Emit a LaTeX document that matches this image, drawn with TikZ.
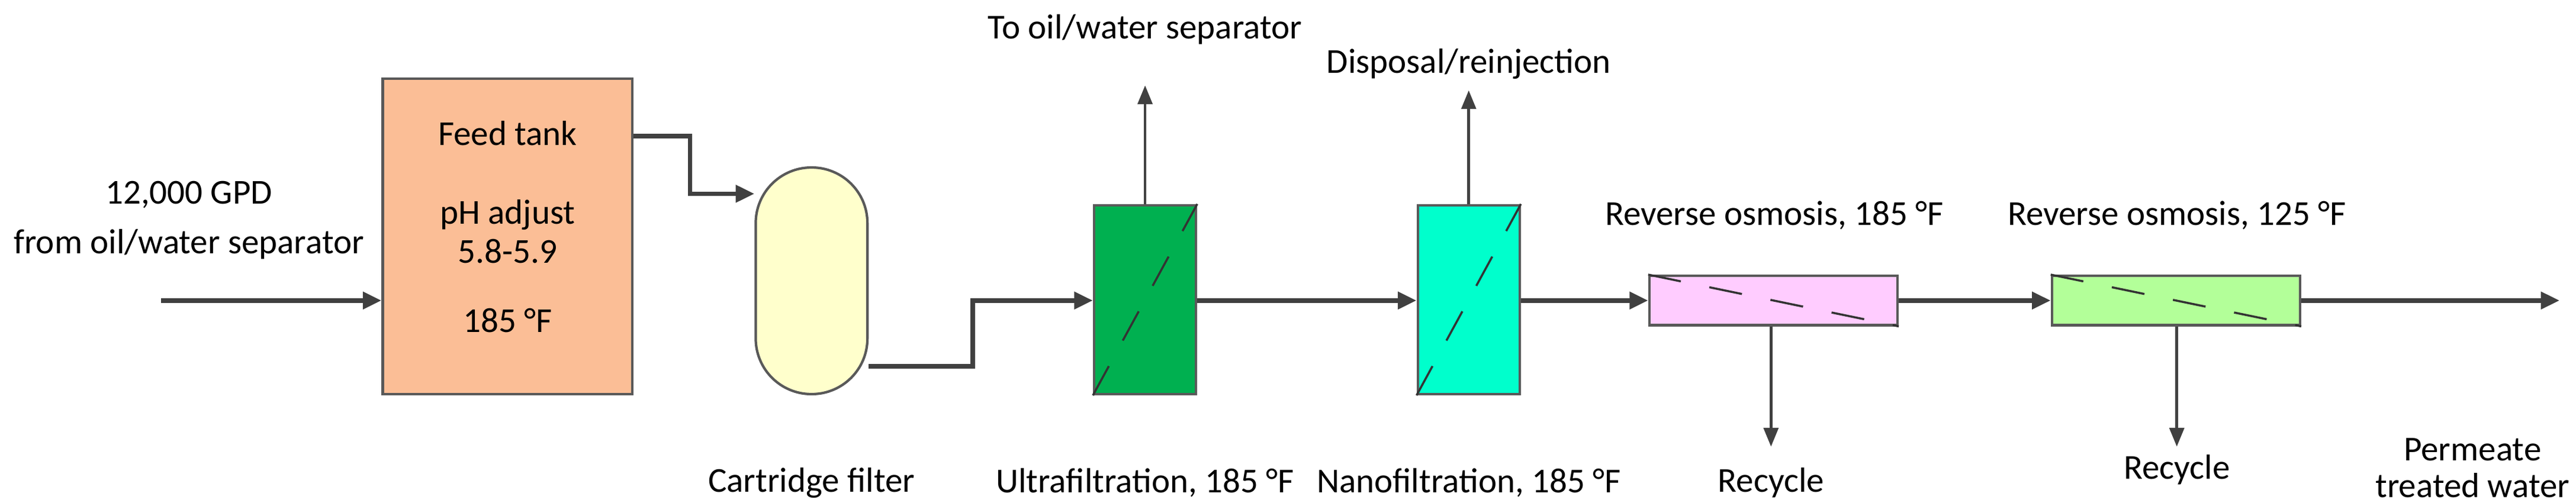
\documentclass[tikz,border=0pt]{standalone}
\usepackage{fontspec}
\setmainfont{Carlito}
\usetikzlibrary{arrows.meta}
\begin{document}
\begin{tikzpicture}[x=0.02775cm,y=-0.02775cm,
  flow/.style={draw=black!75,line width=2.2pt,-{Triangle[length=9pt,width=8pt]}},
  side/.style={draw=black!75,line width=1.3pt,-{Triangle[length=9pt,width=7pt]}},
  unit/.style={draw=black!65,line width=1.2pt,inner sep=0pt},
  lbl/.style={font=\fontsize{16.8}{19}\selectfont,align=center,inner sep=0pt},
  memb/.style={draw=black!80,line width=1pt,dash pattern=on 16pt off 14pt}]
\useasboundingbox (0,0) rectangle (1568,306);
\def\u{0.02775cm}
% units
\node[unit,fill={rgb,255:red,251;green,190;blue,150},minimum width=152*\u,minimum height=192*\u] (tank) at (309,144) {};
\node[lbl] (t1) at (309,81) {Feed tank};
\node[lbl] (t2) at (309,141) {pH adjust\\5.8-5.9};
\node[lbl] (t3) at (309,195) {185 °F};
\node[unit,fill={rgb,255:red,255;green,255;blue,204},rounded corners=0.94cm,minimum width=68*\u,minimum height=138*\u] (cf) at (494,171) {};
\node[unit,fill={rgb,255:red,0;green,176;blue,80},minimum width=62*\u,minimum height=115*\u] (uf) at (697,182.5) {};
\node[unit,fill={rgb,255:red,0;green,255;blue,204},minimum width=62*\u,minimum height=115*\u] (nf) at (894,182.5) {};
\node[unit,fill={rgb,255:red,255;green,204;blue,255},minimum width=151*\u,minimum height=30*\u] (ro1) at (1079.5,183) {};
\node[unit,fill={rgb,255:red,179;green,255;blue,153},minimum width=151*\u,minimum height=30*\u] (ro2) at (1324.5,183) {};
\draw[memb] (uf.south west) -- (uf.north east);
\draw[memb] (nf.south west) -- (nf.north east);
\draw[memb] (ro1.north west) -- (ro1.south east);
\draw[memb] (ro2.north west) -- (ro2.south east);
% labels
\node[lbl,font=\fontsize{16.8}{24}\selectfont] (in) at (115,134) {12,000 GPD\\from oil/water separator};
\node[lbl] (cfl) at (494,294) {Cartridge filter};
\node[lbl] (ufl) at (697,294) {Ultrafiltration, 185 °F};
\node[lbl] (nfl) at (894,294) {Nanofiltration, 185 °F};
\node[lbl] (ufo) at (697,18) {To oil/water separator};
\node[lbl] (nfo) at (894,39) {Disposal/reinjection};
\node[lbl] (ro1l) at (1080,131) {Reverse osmosis, 185 °F};
\node[lbl] (ro2l) at (1325,131) {Reverse osmosis, 125 °F};
\node[lbl] (rc1) at (1078,294) {Recycle};
\node[lbl] (rc2) at (1325,286) {Recycle};
\node[lbl,font=\fontsize{16.8}{17.5}\selectfont] (perm) at (1505,285) {Permeate\\treated water};
% coordinates
\coordinate (src) at (98,183);
\coordinate (ufup) at (697,52);
\coordinate (nfup) at (894,55);
\coordinate (r1dn) at (1078,272);
\coordinate (r2dn) at (1325,272);
\coordinate (out) at (1558,183);
% flows
\draw[flow] (src) -- (tank.west |- src);
\draw[flow] (tank.east |- 0,83) -- (420,83) -- (420,118) -- (cf.west |- 0,118);
\draw[flow] (cf.east |- 0,223) -- (592,223) -- (592,183) -- (uf.west |- 0,183);
\draw[flow] (uf.east |- 0,183) -- (nf.west |- 0,183);
\draw[flow] (nf.east |- 0,183) -- (ro1.west);
\draw[flow] (ro1.east) -- (ro2.west);
\draw[flow] (ro2.east) -- (out);
\draw[side] (uf.north) -- (ufup);
\draw[side] (nf.north) -- (nfup);
\draw[side] (ro1.south -| r1dn) -- (r1dn);
\draw[side] (ro2.south -| r2dn) -- (r2dn);
\end{tikzpicture}
\end{document}
